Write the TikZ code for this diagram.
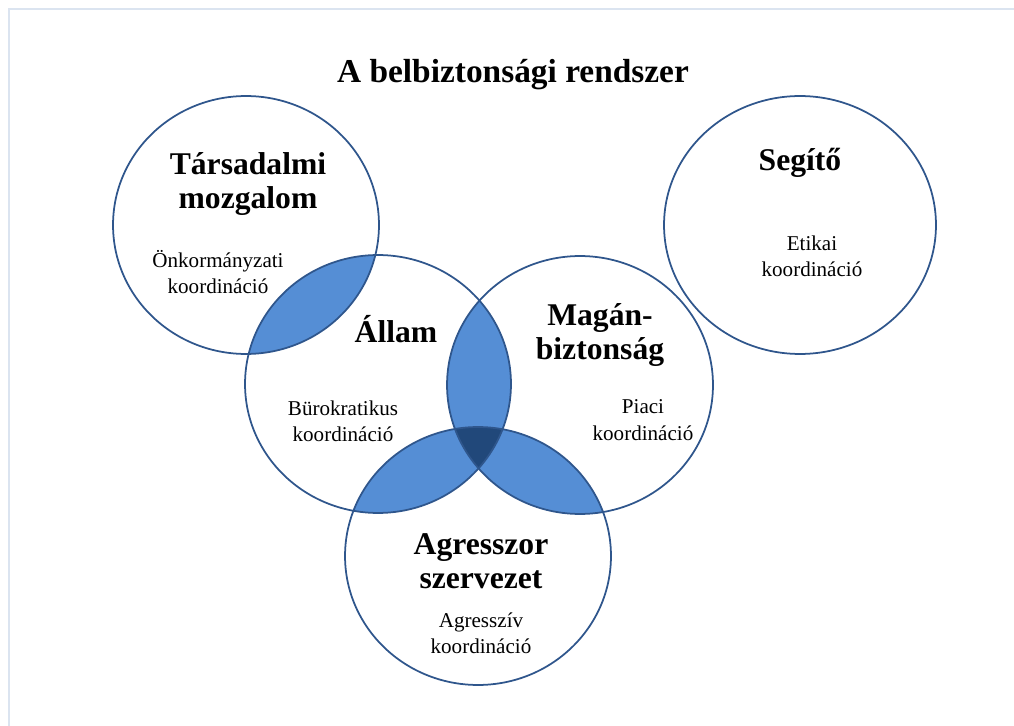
\documentclass[tikz,border=0pt]{standalone}
\usepackage{fontspec}
\setmainfont{Liberation Serif}
\usetikzlibrary{shapes.geometric}
\definecolor{ringblue}{RGB}{47,86,140}
\definecolor{lensblue}{RGB}{85,142,213}
\definecolor{coreblue}{RGB}{33,72,122}
\definecolor{framegray}{RGB}{219,228,240}
\tikzset{
  ring/.style={ellipse, draw=ringblue, line width=1pt, minimum width=5.32cm, minimum height=5.16cm, inner sep=0pt},
  head/.style={font=\fontsize{18}{19.5}\selectfont\bfseries, align=center},
  sub/.style={font=\fontsize{12}{15}\selectfont, align=center},
}

\begin{document}
\begin{tikzpicture}[x=0.02cm,y=-0.02cm]
            \useasboundingbox (0,0) rectangle (1014,726);
            \draw[framegray,line width=1.2pt] (9,726) -- (9,9) -- (1014,9);
            % centres of the circles
            \coordinate (ct) at (246,225);
            \coordinate (ca) at (378,384);
            \coordinate (cm) at (580,385);
            \coordinate (cg) at (478,556);
            \coordinate (cs) at (800,225);
            % overlaps
            \begin{scope}
                \clip (ct) ellipse [x radius=2.66cm, y radius=2.58cm];
                \fill[lensblue] (ca) ellipse [x radius=2.66cm, y radius=2.58cm];
            \end{scope}
            \begin{scope}
                \clip (ca) ellipse [x radius=2.66cm, y radius=2.58cm];
                \fill[lensblue] (cm) ellipse [x radius=2.66cm, y radius=2.58cm];
                \fill[lensblue] (cg) ellipse [x radius=2.66cm, y radius=2.58cm];
            \end{scope}
            \begin{scope}
                \clip (cm) ellipse [x radius=2.66cm, y radius=2.58cm];
                \fill[lensblue] (cg) ellipse [x radius=2.66cm, y radius=2.58cm];
            \end{scope}
            \begin{scope}
                \clip (ca) ellipse [x radius=2.66cm, y radius=2.58cm];
                \clip (cm) ellipse [x radius=2.66cm, y radius=2.58cm];
                \fill[coreblue] (cg) ellipse [x radius=2.66cm, y radius=2.58cm];
            \end{scope}
            % circles
            \node[ring] (tarsadalmi) at (ct) {};
            \node[ring] (allam) at (ca) {};
            \node[ring] (magan) at (cm) {};
            \node[ring] (agresszor) at (cg) {};
            \node[ring, minimum width=5.44cm] (segito) at (cs) {};
            % texts
            \node[font=\fontsize{19}{23}\selectfont\bfseries] (title) at (513,75) {A belbiztonsági rendszer};
            \node[head] (tarsadalminame) at (248,184) {Társadalmi\\mozgalom};
            \node[sub] (tarsadalmikoord) at (218,272) {Önkormányzati\\koordináció};
            \node[head] (segitoname) at (800,163) {Segítő};
            \node[sub] (segitokoord) at (812,256) {Etikai\\koordináció};
            \node[head] (allamname) at (396,329) {Állam};
            \node[sub] (allamkoord) at (343,421) {Bürokratikus\\koordináció};
            \node[head] (maganname) at (600,335) {Magán-\\biztonság};
            \node[sub] (magankoord) at (643,420) {Piaci\\koordináció};
            \node[head] (agresszorname) at (481,561) {Agresszor\\szervezet};
            \node[sub] (agresszorkoord) at (481,633) {Agresszív\\koordináció};
\end{tikzpicture}
\end{document}
